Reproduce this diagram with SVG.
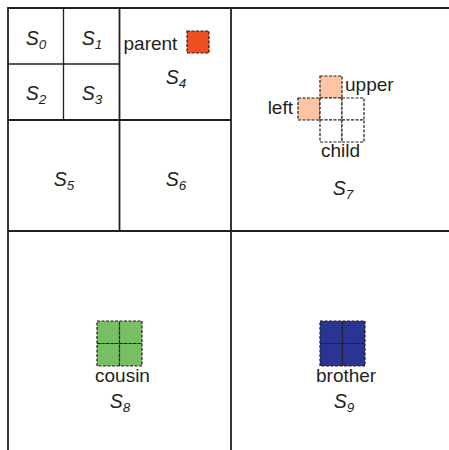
<svg xmlns="http://www.w3.org/2000/svg" width="449" height="450" viewBox="0 0 449 450">
<style>
.frame{fill:none;stroke:#231f20;stroke-width:1.8}
.thin{fill:none;stroke:#231f20;stroke-width:1.3}
.cell{stroke:#231f20;stroke-width:1.2;stroke-dasharray:3 1.5}
.lbl{font-family:"Liberation Sans",Arial,sans-serif;font-size:19px;fill:#231f20}
.s{font-family:"Liberation Sans",Arial,sans-serif;font-size:19.5px;font-style:italic;fill:#231f20;text-anchor:middle}
.sub{font-size:13.5px}
</style>
<rect width="449" height="450" fill="#ffffff"/>
<g id="connectors">
<path class="frame" d="M8,455 V8 H455 M231,8 V455 M8,231 H455 M119.5,8 V231 M8,120 H231"/>
<path class="thin" d="M63.5,8 V120 M8,64 H119.5"/>
</g>
<g id="S0"><text class="s" x="36" y="45">S<tspan class="sub" dy="4">0</tspan></text></g>
<g id="S1"><text class="s" x="92" y="45">S<tspan class="sub" dy="4">1</tspan></text></g>
<g id="S2"><text class="s" x="36" y="100">S<tspan class="sub" dy="4">2</tspan></text></g>
<g id="S3"><text class="s" x="92" y="100">S<tspan class="sub" dy="4">3</tspan></text></g>
<g id="S4">
<text class="lbl" x="123.5" y="50">parent</text>
<rect class="cell" x="187" y="31" width="22" height="22" fill="#f04e23"/>
<text class="s" x="176" y="84">S<tspan class="sub" dy="4">4</tspan></text>
</g>
<g id="S5"><text class="s" x="64" y="186">S<tspan class="sub" dy="4">5</tspan></text></g>
<g id="S6"><text class="s" x="176" y="186">S<tspan class="sub" dy="4">6</tspan></text></g>
<g id="S7">
<rect class="cell" x="320" y="76" width="22" height="22" fill="#fdc5a3"/>
<rect class="cell" x="298" y="98" width="22" height="22" fill="#fdc5a3"/>
<rect class="cell" x="320" y="98" width="22" height="22" fill="#ffffff"/>
<rect class="cell" x="342" y="98" width="22" height="22" fill="#ffffff"/>
<rect class="cell" x="320" y="120" width="22" height="22" fill="#ffffff"/>
<rect class="cell" x="342" y="120" width="22" height="22" fill="#ffffff"/>
<text class="lbl" x="345" y="91">upper</text>
<text class="lbl" x="293" y="114" text-anchor="end">left</text>
<text class="lbl" x="321" y="157">child</text>
<text class="s" x="343" y="195">S<tspan class="sub" dy="4">7</tspan></text>
</g>
<g id="S8">
<rect class="cell" x="97" y="321" width="22.5" height="22.5" fill="#76c063"/>
<rect class="cell" x="119.5" y="321" width="22.5" height="22.5" fill="#76c063"/>
<rect class="cell" x="97" y="343.5" width="22.5" height="22.5" fill="#76c063"/>
<rect class="cell" x="119.5" y="343.5" width="22.5" height="22.5" fill="#76c063"/>
<text class="lbl" x="95" y="382">cousin</text>
<text class="s" x="120" y="408">S<tspan class="sub" dy="4">8</tspan></text>
</g>
<g id="S9">
<rect class="cell" x="320" y="321" width="22.5" height="22.5" fill="#2a3593"/>
<rect class="cell" x="342.5" y="321" width="22.5" height="22.5" fill="#2a3593"/>
<rect class="cell" x="320" y="343.5" width="22.5" height="22.5" fill="#2a3593"/>
<rect class="cell" x="342.5" y="343.5" width="22.5" height="22.5" fill="#2a3593"/>
<text class="lbl" x="316" y="382">brother</text>
<text class="s" x="344" y="408">S<tspan class="sub" dy="4">9</tspan></text>
</g>
</svg>
